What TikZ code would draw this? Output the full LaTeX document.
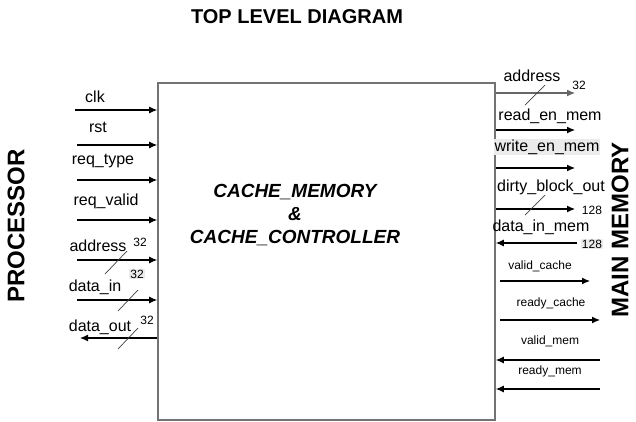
\documentclass[tikz,border=0pt]{standalone}
\usepackage{fontspec}
\setmainfont{Liberation Sans}
\usetikzlibrary{arrows.meta}
\tikzstyle{sig} = [inner sep=0pt,font=\fontsize{16}{19}\selectfont]
\tikzstyle{ctl} = [inner sep=0pt,font=\fontsize{12}{14}\selectfont]
\tikzstyle{hl} = [fill=black!8,inner sep=1pt]
\tikzstyle{wire} = [->,>={Latex[length=8pt,width=7pt]},line width=1.1pt]
\tikzstyle{bus} = [line width=0.7pt,draw=black!75]
\tikzstyle{side} = [rotate=90,font=\fontsize{24}{28}\selectfont\bfseries]

\begin{document}
\begin{tikzpicture}[x=1pt,y=-1pt]
	\useasboundingbox (0,0) rectangle (636,421);
	
	\node [font=\fontsize{20}{24}\selectfont\bfseries] (title) at(297,17) {TOP LEVEL DIAGRAM};
	\node [draw=black!55,line width=1.6pt,minimum width=337pt,minimum height=337pt,inner sep=0pt] (box) at(326.5,251.5) {};
	\node [align=center,font=\fontsize{19}{23}\selectfont\bfseries\itshape] (core) at(295,215) {CACHE\_MEMORY\\\&\\CACHE\_CONTROLLER};
	\node [side] (cpu) at(16,226) {PROCESSOR};
	\node [side] (mem) at(620,230) {MAIN MEMORY};
	%%%%%%%%%%%%%%%
	\node [sig] (clk) at(95,97) {clk};
	\coordinate (clk_in) at(75,110);
	\draw [wire] (clk_in) -- (clk_in -| box.west) ;
	\node [sig] (rst) at(98,127) {rst};
	\coordinate (rst_in) at(77,145);
	\draw [wire] (rst_in) -- (rst_in -| box.west) ;
	\node [sig] (rtype) at(103,161) {req\_type};
	\coordinate (rtype_in) at(77,180);
	\draw [wire] (rtype_in) -- (rtype_in -| box.west) ;
	\node [sig] (rvalid) at(106,201) {req\_valid};
	\coordinate (rvalid_in) at(77,220);
	\draw [wire] (rvalid_in) -- (rvalid_in -| box.west) ;
	%----
	\node [sig] (addr) at(98,246) {address};
	\node [ctl] (addr_w) at(140,242) {32};
	\coordinate (addr_in) at(77,260);
	\draw [wire] (addr_in) -- (addr_in -| box.west) ;
	\coordinate (addr_s1) at(105,274);
	\coordinate (addr_s2) at(127,251);
	\draw [bus] (addr_s1) -- (addr_s2) ;
	\node [sig] (din) at(95,287) {data\_in};
	\node [ctl,hl] (din_w) at(137,274) {32};
	\coordinate (din_in) at(77,300);
	\draw [wire] (din_in) -- (din_in -| box.west) ;
	\coordinate (din_s1) at(118,311);
	\coordinate (din_s2) at(138,290);
	\draw [bus] (din_s1) -- (din_s2) ;
	\node [sig] (dout) at(100,327) {data\_out};
	\node [ctl] (dout_w) at(147,320) {32};
	\coordinate (dout_out) at(80,338);
	\draw [wire] (dout_out -| box.west) -- (dout_out) ;
	\coordinate (dout_s1) at(118,349);
	\coordinate (dout_s2) at(138,328);
	\draw [bus] (dout_s1) -- (dout_s2) ;
	%%%%%%%%%%%%%%%
	\node [sig] (maddr) at(532,76) {address};
	\node [ctl] (maddr_w) at(579,85) {32};
	\coordinate (maddr_out) at(575,93);
	\draw [wire,draw=black!60,fill=black] (maddr_out -| box.east) -- (maddr_out) ;
	\coordinate (maddr_s1) at(525,105);
	\coordinate (maddr_s2) at(545,85);
	\draw [bus] (maddr_s1) -- (maddr_s2) ;
	\node [sig] (rden) at(550,116) {read\_en\_mem};
	\coordinate (rden_out) at(575,130);
	\draw [wire] (rden_out -| box.east) -- (rden_out) ;
	\node [sig,hl] (wren) at(547,147) {write\_en\_mem};
	\coordinate (wren_out) at(575,168);
	\draw [wire] (wren_out -| box.east) -- (wren_out) ;
	\node [sig] (dbo) at(551,187) {dirty\_block\_out};
	\node [ctl] (dbo_w) at(592,210) {128};
	\coordinate (dbo_out) at(575,209);
	\draw [wire] (dbo_out -| box.east) -- (dbo_out) ;
	\coordinate (dbo_s1) at(525,215);
	\coordinate (dbo_s2) at(545,195);
	\draw [bus] (dbo_s1) -- (dbo_s2) ;
	\node [sig] (dim) at(541,227) {data\_in\_mem};
	\node [ctl,hl] (dim_w) at(592,244) {128};
	\coordinate (dim_in) at(577,243);
	\draw [wire] (dim_in) -- (dim_in -| box.east) ;
	%----
	\node [ctl] (vc) at(540,266) {valid\_cache};
	\coordinate (vc_a) at(500,281);
	\coordinate (vc_b) at(590,281);
	\draw [wire] (vc_a) -- (vc_b) ;
	\node [ctl] (rc) at(551,303) {ready\_cache};
	\coordinate (rc_a) at(500,320);
	\coordinate (rc_b) at(600,320);
	\draw [wire] (rc_a) -- (rc_b) ;
	\node [ctl] (vm) at(550,341) {valid\_mem};
	\coordinate (vm_in) at(600,360);
	\draw [wire] (vm_in) -- (vm_in -| box.east) ;
	\node [ctl] (rm) at(550,371) {ready\_mem};
	\coordinate (rm_in) at(600,389);
	\draw [wire] (rm_in) -- (rm_in -| box.east) ;
	
\end{tikzpicture}
\end{document}
